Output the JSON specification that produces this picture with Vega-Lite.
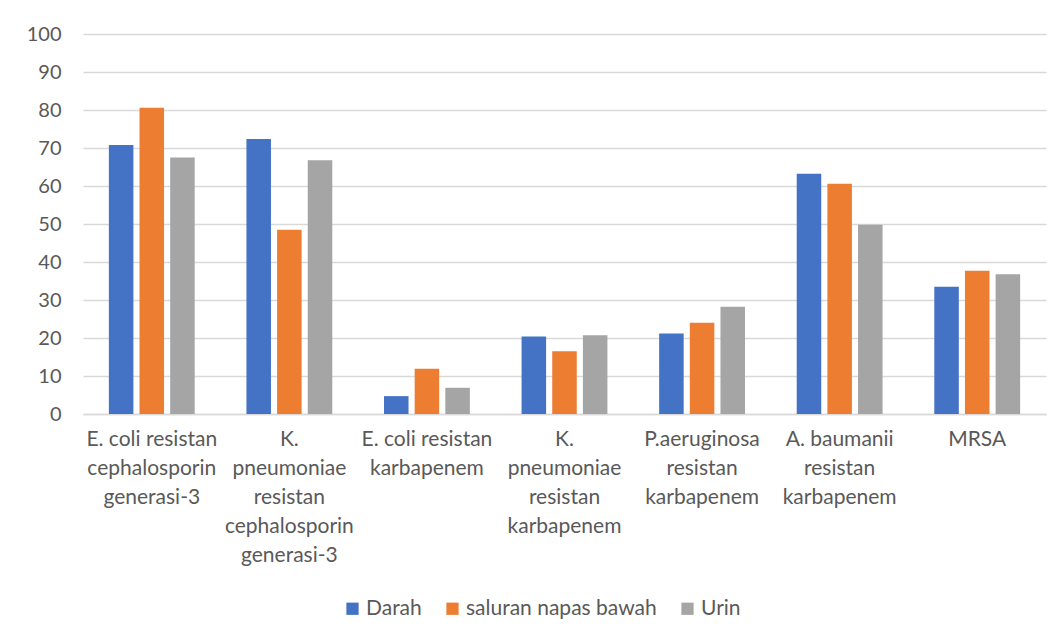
{
  "$schema": "https://vega.github.io/schema/vega-lite/v6.json",
  "width": 963,
  "height": 380,
  "autosize": "none",
  "padding": {"left": 83, "top": 34, "right": 14, "bottom": 225},
  "background": "white",
  "config": {"font": "Lato", "view": {"stroke": null}},
  "data": {
    "values": [
      {"category": "E. coli resistan cephalosporin generasi-3", "site": "Darah", "value": 70.8},
      {"category": "E. coli resistan cephalosporin generasi-3", "site": "saluran napas bawah", "value": 80.6},
      {"category": "E. coli resistan cephalosporin generasi-3", "site": "Urin", "value": 67.5},
      {"category": "K. pneumoniae resistan cephalosporin generasi-3", "site": "Darah", "value": 72.4},
      {"category": "K. pneumoniae resistan cephalosporin generasi-3", "site": "saluran napas bawah", "value": 48.5},
      {"category": "K. pneumoniae resistan cephalosporin generasi-3", "site": "Urin", "value": 66.8},
      {"category": "E. coli resistan karbapenem", "site": "Darah", "value": 4.7},
      {"category": "E. coli resistan karbapenem", "site": "saluran napas bawah", "value": 11.9},
      {"category": "E. coli resistan karbapenem", "site": "Urin", "value": 6.9},
      {"category": "K. pneumoniae resistan karbapenem", "site": "Darah", "value": 20.4},
      {"category": "K. pneumoniae resistan karbapenem", "site": "saluran napas bawah", "value": 16.5},
      {"category": "K. pneumoniae resistan karbapenem", "site": "Urin", "value": 20.7},
      {"category": "P.aeruginosa resistan karbapenem", "site": "Darah", "value": 21.2},
      {"category": "P.aeruginosa resistan karbapenem", "site": "saluran napas bawah", "value": 24.0},
      {"category": "P.aeruginosa resistan karbapenem", "site": "Urin", "value": 28.2},
      {"category": "A. baumanii resistan karbapenem", "site": "Darah", "value": 63.2},
      {"category": "A. baumanii resistan karbapenem", "site": "saluran napas bawah", "value": 60.6},
      {"category": "A. baumanii resistan karbapenem", "site": "Urin", "value": 49.8},
      {"category": "MRSA", "site": "Darah", "value": 33.5},
      {"category": "MRSA", "site": "saluran napas bawah", "value": 37.7},
      {"category": "MRSA", "site": "Urin", "value": 36.8}
    ]
  },
  "mark": {"type": "bar"},
  "encoding": {
    "x": {
      "field": "category",
      "type": "nominal",
      "sort": null,
      "scale": {"paddingInner": 0.376, "paddingOuter": 0.188},
      "axis": {
        "title": null,
        "labelAngle": 0,
        "labelFontSize": 21,
        "labelColor": "#595959",
        "labelLineHeight": 29,
        "labelPadding": 14,
        "labelOverlap": false,
        "labelLimit": 300,
        "ticks": false,
        "domainColor": "#d9d9d9",
        "domainWidth": 1.5,
        "labelExpr": "{'E. coli resistan cephalosporin generasi-3': ['E. coli resistan', 'cephalosporin', 'generasi-3'], 'K. pneumoniae resistan cephalosporin generasi-3': ['K.', 'pneumoniae', 'resistan', 'cephalosporin', 'generasi-3'], 'E. coli resistan karbapenem': ['E. coli resistan', 'karbapenem'], 'K. pneumoniae resistan karbapenem': ['K.', 'pneumoniae', 'resistan', 'karbapenem'], 'P.aeruginosa resistan karbapenem': ['P.aeruginosa', 'resistan', 'karbapenem'], 'A. baumanii resistan karbapenem': ['A. baumanii', 'resistan', 'karbapenem'], 'MRSA': ['MRSA']}[datum.value]"
      }
    },
    "xOffset": {
      "field": "site",
      "type": "nominal",
      "sort": ["Darah", "saluran napas bawah", "Urin"],
      "scale": {"paddingInner": 0.2}
    },
    "y": {
      "field": "value",
      "type": "quantitative",
      "scale": {"domain": [0, 100]},
      "axis": {
        "title": null,
        "values": [0, 10, 20, 30, 40, 50, 60, 70, 80, 90, 100],
        "grid": true,
        "gridColor": "#d9d9d9",
        "gridWidth": 1.5,
        "domain": false,
        "ticks": false,
        "labelFontSize": 20,
        "labelColor": "#595959",
        "labelPadding": 22
      }
    },
    "color": {
      "field": "site",
      "type": "nominal",
      "scale": {
        "domain": ["Darah", "saluran napas bawah", "Urin"],
        "range": ["#4472C4", "#ED7D31", "#A5A5A5"]
      },
      "legend": {
        "title": null,
        "orient": "none",
        "direction": "horizontal",
        "legendX": 259,
        "legendY": 564,
        "symbolType": "square",
        "symbolSize": 150,
        "symbolStrokeWidth": 0,
        "labelFontSize": 21,
        "labelColor": "#595959",
        "labelOffset": 3,
        "columnPadding": 20,
        "labelLimit": 400
      }
    }
  }
}
